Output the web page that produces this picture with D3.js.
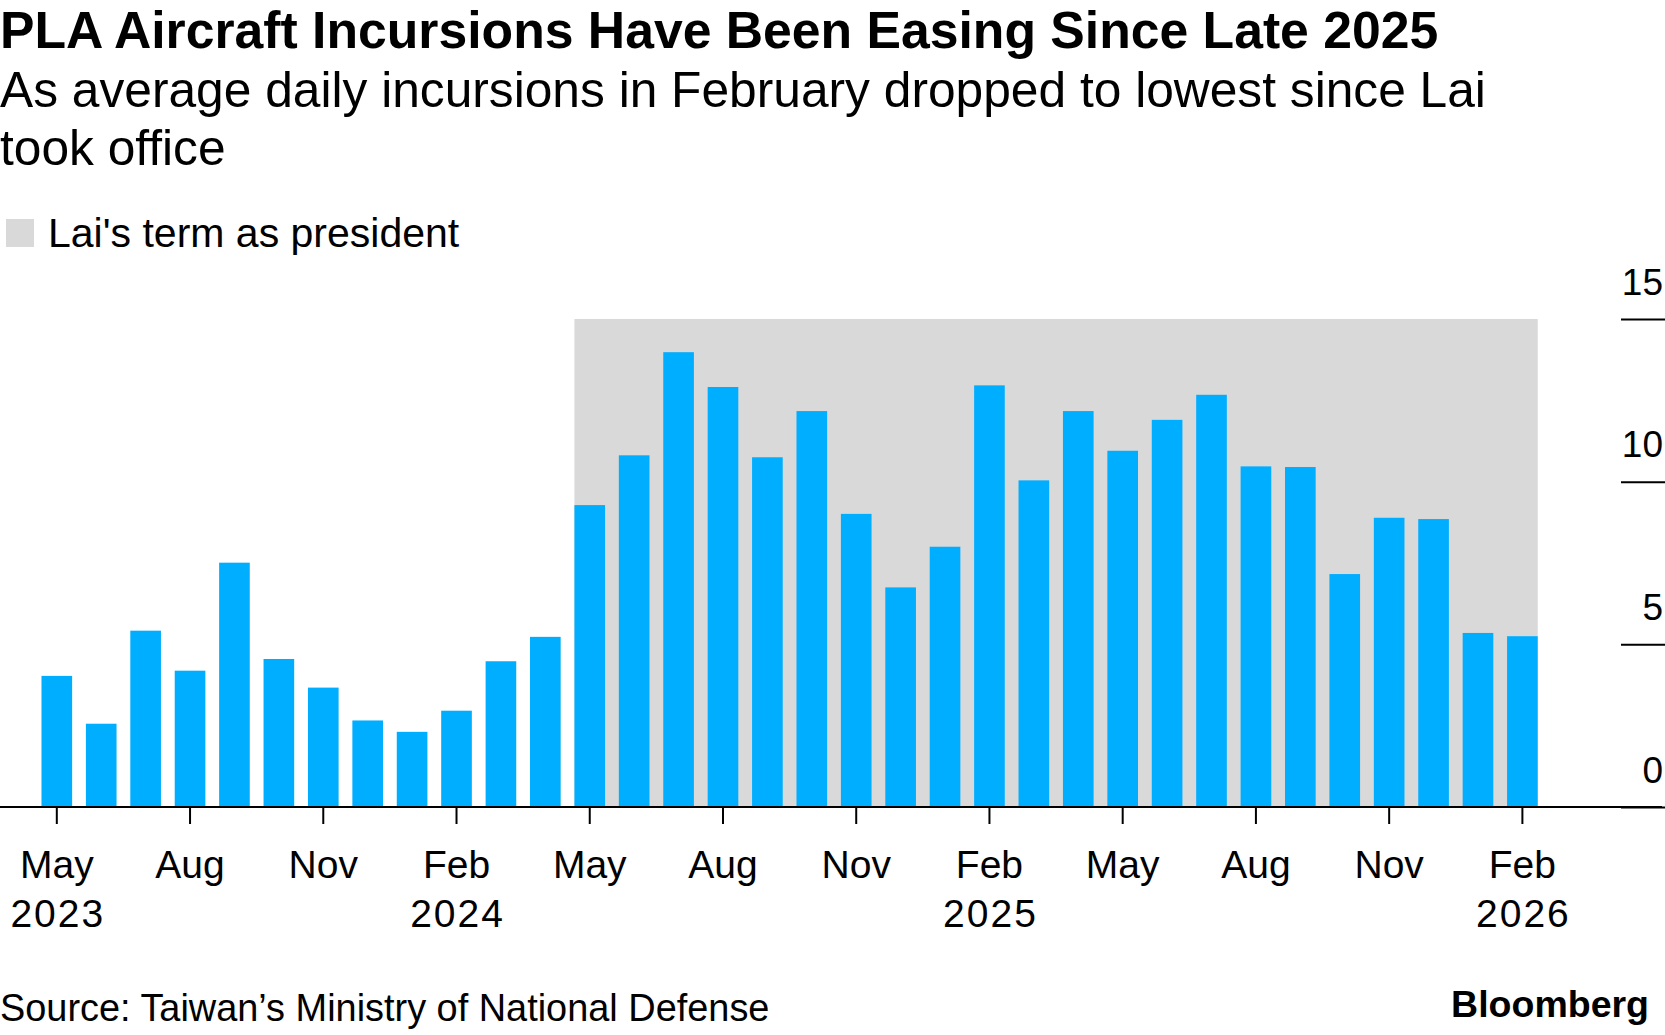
<!DOCTYPE html>
<html>
<head>
<meta charset="utf-8">
<script src="https://cdn.jsdelivr.net/npm/d3@7"></script>
<style>
    body { margin: 0; background: #fff; }
    text { font-family: "Liberation Sans", Arial, sans-serif; fill: #000; }
</style>
</head>
<body>
<div id="chart"></div>
<script>
"use strict";

// monthly average daily PLA aircraft incursions
const months = [
    "May 2023", "Jun 2023", "Jul 2023", "Aug 2023", "Sep 2023", "Oct 2023", "Nov 2023", "Dec 2023",
    "Jan 2024", "Feb 2024", "Mar 2024", "Apr 2024", "May 2024", "Jun 2024", "Jul 2024", "Aug 2024",
    "Sep 2024", "Oct 2024", "Nov 2024", "Dec 2024", "Jan 2025", "Feb 2025", "Mar 2025", "Apr 2025",
    "May 2025", "Jun 2025", "Jul 2025", "Aug 2025", "Sep 2025", "Oct 2025", "Nov 2025", "Dec 2025",
    "Jan 2026", "Feb 2026"
];
const incursions = [
    4.03, 2.56, 5.42, 4.19, 7.51, 4.55, 3.67, 2.66,
    2.31, 2.96, 4.48, 5.23, 9.28, 10.81, 13.98, 12.91,
    10.75, 12.17, 9.01, 6.75, 8.00, 12.96, 10.04, 12.17,
    10.95, 11.90, 12.67, 10.47, 10.45, 7.16, 8.89, 8.85,
    5.35, 5.25
];

const laiTerm = ["May 2024", "Feb 2026"];

const tickMonths = ["May 2023", "Aug 2023", "Nov 2023", "Feb 2024", "May 2024", "Aug 2024",
    "Nov 2024", "Feb 2025", "May 2025", "Aug 2025", "Nov 2025", "Feb 2026"];
const tickMonthLabels = ["May", "Aug", "Nov", "Feb", "May", "Aug", "Nov", "Feb", "May", "Aug", "Nov", "Feb"];
const tickYearLabels = ["2023", "", "", "2024", "", "", "", "2025", "", "", "", "2026"];
const yTicks = [0, 5, 10, 15];

const title = "PLA Aircraft Incursions Have Been Easing Since Late 2025";
const subtitle = ["As average daily incursions in February dropped to lowest since Lai", "took office"];
const legendLabel = "Lai's term as president";
const source = "Source: Taiwan\u2019s Ministry of National Defense";

const drawChart = () => {
    var width = 1665,
        height = 1035;

    var svg = d3.select("#chart")
        .append("svg")
        .attr("width", width)
        .attr("height", height);

    var x = d3.scaleBand()
        .domain(months)
        .range([34.6, 1544.6])
        .paddingInner(0.31)
        .paddingOuter(0.155);

    var y = d3.scaleLinear()
        .domain([0, 15])
        .range([807, 319]);

    // header
    svg.append("text")
        .attr("x", 0)
        .attr("y", 48)
        .attr("font-size", 51.7)
        .attr("font-weight", "bold")
        .text(title);

    svg.selectAll(".subtitle")
        .data(subtitle)
        .enter()
        .append("text")
        .attr("class", "subtitle")
        .attr("x", 0)
        .attr("y", (d, i) => 107 + i * 58)
        .attr("font-size", 49.7)
        .text(d => d);

    // legend
    svg.append("rect")
        .attr("x", 6)
        .attr("y", 219)
        .attr("width", 28)
        .attr("height", 28)
        .attr("fill", "#d9d9d9");

    svg.append("text")
        .attr("x", 48)
        .attr("y", 247)
        .attr("font-size", 41)
        .text(legendLabel);

    // shaded term
    svg.append("rect")
        .attr("x", x(laiTerm[0]))
        .attr("y", y(15))
        .attr("width", x(laiTerm[1]) + x.bandwidth() - x(laiTerm[0]))
        .attr("height", y(0) - y(15))
        .attr("fill", "#d9d9d9");

    svg.append("g")
        .selectAll("rect")
        .data(months)
        .enter()
        .append("rect")
        .attr("x", d => x(d))
        .attr("y", (d, i) => y(incursions[i]))
        .attr("width", x.bandwidth())
        .attr("height", (d, i) => y(0) - y(incursions[i]))
        .attr("fill", "#00aeff");

    // y axis on the right
    var yAxis = svg.append("g")
        .attr("transform", "translate(" + width + ",0)")
        .call(d3.axisLeft(y).tickValues(yTicks).tickSize(44).tickFormat(d3.format("d")));

    yAxis.select(".domain").remove();
    yAxis.selectAll("line")
        .attr("stroke", "#000")
        .attr("stroke-width", 2);
    yAxis.selectAll("text")
        .attr("x", -2)
        .attr("y", -25)
        .attr("dy", 0)
        .attr("text-anchor", "end")
        .attr("font-size", 37)
        .attr("font-family", null)
        .attr("fill", "#000");

    // x axis
    var xAxis = svg.append("g")
        .attr("transform", "translate(0," + y(0) + ")")
        .call(d3.axisBottom(x).tickValues(tickMonths).tickSize(17).tickSizeOuter(0));

    xAxis.select(".domain").remove();
    xAxis.selectAll("line")
        .attr("stroke", "#000")
        .attr("stroke-width", 2);

    var tickText = xAxis.selectAll("text")
        .attr("y", 0)
        .attr("dy", 0)
        .attr("font-size", 39)
        .attr("font-family", null)
        .attr("fill", "#000")
        .text(null);

    tickText.append("tspan")
        .attr("x", 0)
        .attr("y", 71)
        .text(d => tickMonthLabels[tickMonths.indexOf(d)]);

    tickText.append("tspan")
        .attr("x", 1)
        .attr("y", 120)
        .attr("letter-spacing", 2)
        .text(d => tickYearLabels[tickMonths.indexOf(d)]);

    svg.append("line")
        .attr("x1", 0)
        .attr("x2", 1662)
        .attr("y1", y(0))
        .attr("y2", y(0))
        .attr("stroke", "#000")
        .attr("stroke-width", 2);

    // footer
    svg.append("text")
        .attr("x", 0)
        .attr("y", 1021)
        .attr("font-size", 37.9)
        .text(source);

    svg.append("text")
        .attr("x", 1649)
        .attr("y", 1017)
        .attr("text-anchor", "end")
        .attr("font-size", 37.5)
        .attr("font-weight", "bold")
        .text("Bloomberg");
}

drawChart();
</script>
</body>
</html>
